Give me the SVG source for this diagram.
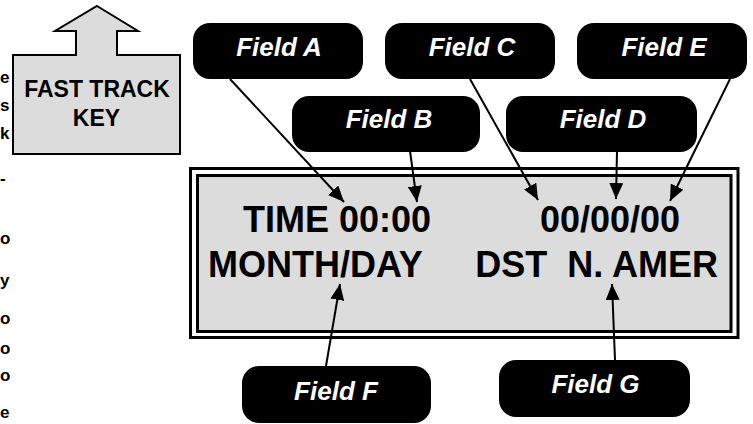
<svg xmlns="http://www.w3.org/2000/svg" width="753" height="424" viewBox="0 0 753 424">
<style>
.fld{fill:#000;}
.ft{font-family:"Liberation Sans",Arial,sans-serif;font-weight:bold;font-style:italic;font-size:26px;fill:#fff;text-anchor:middle;}
.disp{font-family:"Liberation Sans",Arial,sans-serif;font-weight:bold;font-size:36px;fill:#000;}
.key{font-family:"Liberation Sans",Arial,sans-serif;font-weight:bold;font-size:23px;fill:#000;text-anchor:middle;}
.edge{font-family:"Liberation Sans",Arial,sans-serif;font-weight:bold;font-size:17px;fill:#000;text-anchor:start;}
.con{stroke:#000;stroke-width:2;fill:none;marker-end:url(#ah);}
</style>
<defs>
<marker id="ah" viewBox="0 0 16 14" refX="16" refY="7" markerWidth="16" markerHeight="14" markerUnits="userSpaceOnUse" orient="auto">
<path d="M0,0 L16,7 L0,14 z" fill="#000"/>
</marker>
</defs>
<rect width="753" height="424" fill="#fff"/>
<g id="edge-text">
<text class="edge" x="0" y="83">e</text>
<text class="edge" x="0" y="111">s</text>
<text class="edge" x="0" y="139">k</text>
<text class="edge" x="0" y="184">-</text>
<text class="edge" x="0" y="244">o</text>
<text class="edge" x="0" y="286">y</text>
<text class="edge" x="0" y="324">o</text>
<text class="edge" x="0" y="354">o</text>
<text class="edge" x="0" y="381">o</text>
<text class="edge" x="0" y="418">e</text>
</g>
<g id="fast-track-key">
<polygon points="97,6 138,31 117,31 117,55 180,55 180,154 13,154 13,55 76,55 76,31 55,31" fill="#dcdcdc" stroke="#000" stroke-width="2"/>
<text class="key" x="97" y="97">FAST TRACK</text>
<text class="key" x="96.5" y="126">KEY</text>
</g>
<g id="display">
<rect x="190.5" y="168.5" width="547.5" height="169" fill="#fff" stroke="#000" stroke-width="3"/>
<rect x="197.5" y="175.5" width="533.5" height="156" fill="#dcdcdc" stroke="#000" stroke-width="3"/>
<text class="disp" x="243" y="232">TIME 00:00</text>
<text class="disp" x="540" y="232">00/00/00</text>
<text class="disp" x="208" y="277">MONTH/DAY</text>
<text class="disp" x="718" y="277" text-anchor="end" xml:space="preserve">DST  N. AMER</text>
</g>
<g id="connectors">
<line class="con" x1="230" y1="79" x2="344" y2="202"/>
<line class="con" x1="410" y1="151" x2="417" y2="202"/>
<line class="con" x1="470" y1="79" x2="538" y2="200"/>
<line class="con" x1="617" y1="151" x2="616" y2="199"/>
<line class="con" x1="730" y1="79" x2="670" y2="201"/>
<line class="con" x1="326" y1="366" x2="340" y2="284"/>
<line class="con" x1="615" y1="360" x2="612" y2="284"/>
</g>
<g id="field-a"><rect class="fld" x="193" y="23" width="170" height="56" rx="17"/><text class="ft" x="279" y="56">Field A</text></g>
<g id="field-b"><rect class="fld" x="292" y="96" width="188" height="56" rx="17"/><text class="ft" x="389" y="128">Field B</text></g>
<g id="field-c"><rect class="fld" x="385" y="23" width="170" height="56" rx="17"/><text class="ft" x="472" y="56">Field C</text></g>
<g id="field-d"><rect class="fld" x="506" y="96" width="191" height="56" rx="17"/><text class="ft" x="603" y="128">Field D</text></g>
<g id="field-e"><rect class="fld" x="577" y="23" width="170" height="56" rx="17"/><text class="ft" x="664" y="56">Field E</text></g>
<g id="field-f"><rect class="fld" x="242" y="366" width="189" height="57" rx="17"/><text class="ft" x="336" y="400">Field F</text></g>
<g id="field-g"><rect class="fld" x="499" y="360" width="191" height="57" rx="17"/><text class="ft" x="595.5" y="393">Field G</text></g>
</svg>
